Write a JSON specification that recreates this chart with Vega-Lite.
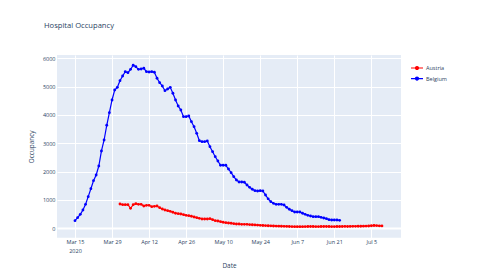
{
  "$schema": "https://vega.github.io/schema/vega-lite/v6.json",
  "width": 344,
  "height": 182.7,
  "autosize": {"type": "none"},
  "padding": {"left": 57, "top": 55, "right": 79, "bottom": 40.3},
  "background": "white",
  "config": {"view": {"fill": "#E5ECF6", "stroke": null}, "font": "Open Sans"},
  "title": {"text": "Hospital Occupancy", "anchor": "start", "frame": "group", "dx": -13, "offset": 19.5, "baseline": "alphabetic", "fontSize": 7.6, "fontWeight": "normal", "color": "#2a3f5f", "font": "Open Sans"},
  "data": {"values": [
    {"country": "Belgium", "date": "2020-03-15", "value": 268},
    {"country": "Belgium", "date": "2020-03-16", "value": 374},
    {"country": "Belgium", "date": "2020-03-17", "value": 494},
    {"country": "Belgium", "date": "2020-03-18", "value": 646},
    {"country": "Belgium", "date": "2020-03-19", "value": 847},
    {"country": "Belgium", "date": "2020-03-20", "value": 1116},
    {"country": "Belgium", "date": "2020-03-21", "value": 1398},
    {"country": "Belgium", "date": "2020-03-22", "value": 1680},
    {"country": "Belgium", "date": "2020-03-23", "value": 1881},
    {"country": "Belgium", "date": "2020-03-24", "value": 2199},
    {"country": "Belgium", "date": "2020-03-25", "value": 2729},
    {"country": "Belgium", "date": "2020-03-26", "value": 3117},
    {"country": "Belgium", "date": "2020-03-27", "value": 3636},
    {"country": "Belgium", "date": "2020-03-28", "value": 4081},
    {"country": "Belgium", "date": "2020-03-29", "value": 4529},
    {"country": "Belgium", "date": "2020-03-30", "value": 4882},
    {"country": "Belgium", "date": "2020-03-31", "value": 4977},
    {"country": "Belgium", "date": "2020-04-01", "value": 5210},
    {"country": "Belgium", "date": "2020-04-02", "value": 5376},
    {"country": "Belgium", "date": "2020-04-03", "value": 5528},
    {"country": "Belgium", "date": "2020-04-04", "value": 5493},
    {"country": "Belgium", "date": "2020-04-05", "value": 5612},
    {"country": "Belgium", "date": "2020-04-06", "value": 5754},
    {"country": "Belgium", "date": "2020-04-07", "value": 5704},
    {"country": "Belgium", "date": "2020-04-08", "value": 5612},
    {"country": "Belgium", "date": "2020-04-09", "value": 5623},
    {"country": "Belgium", "date": "2020-04-10", "value": 5648},
    {"country": "Belgium", "date": "2020-04-11", "value": 5528},
    {"country": "Belgium", "date": "2020-04-12", "value": 5517},
    {"country": "Belgium", "date": "2020-04-13", "value": 5528},
    {"country": "Belgium", "date": "2020-04-14", "value": 5507},
    {"country": "Belgium", "date": "2020-04-15", "value": 5295},
    {"country": "Belgium", "date": "2020-04-16", "value": 5140},
    {"country": "Belgium", "date": "2020-04-17", "value": 5023},
    {"country": "Belgium", "date": "2020-04-18", "value": 4857},
    {"country": "Belgium", "date": "2020-04-19", "value": 4917},
    {"country": "Belgium", "date": "2020-04-20", "value": 4977},
    {"country": "Belgium", "date": "2020-04-21", "value": 4766},
    {"country": "Belgium", "date": "2020-04-22", "value": 4529},
    {"country": "Belgium", "date": "2020-04-23", "value": 4317},
    {"country": "Belgium", "date": "2020-04-24", "value": 4176},
    {"country": "Belgium", "date": "2020-04-25", "value": 3940},
    {"country": "Belgium", "date": "2020-04-26", "value": 3940},
    {"country": "Belgium", "date": "2020-04-27", "value": 3964},
    {"country": "Belgium", "date": "2020-04-28", "value": 3763},
    {"country": "Belgium", "date": "2020-04-29", "value": 3587},
    {"country": "Belgium", "date": "2020-04-30", "value": 3353},
    {"country": "Belgium", "date": "2020-05-01", "value": 3092},
    {"country": "Belgium", "date": "2020-05-02", "value": 3057},
    {"country": "Belgium", "date": "2020-05-03", "value": 3057},
    {"country": "Belgium", "date": "2020-05-04", "value": 3082},
    {"country": "Belgium", "date": "2020-05-05", "value": 2881},
    {"country": "Belgium", "date": "2020-05-06", "value": 2704},
    {"country": "Belgium", "date": "2020-05-07", "value": 2527},
    {"country": "Belgium", "date": "2020-05-08", "value": 2376},
    {"country": "Belgium", "date": "2020-05-09", "value": 2224},
    {"country": "Belgium", "date": "2020-05-10", "value": 2224},
    {"country": "Belgium", "date": "2020-05-11", "value": 2224},
    {"country": "Belgium", "date": "2020-05-12", "value": 2093},
    {"country": "Belgium", "date": "2020-05-13", "value": 1963},
    {"country": "Belgium", "date": "2020-05-14", "value": 1822},
    {"country": "Belgium", "date": "2020-05-15", "value": 1705},
    {"country": "Belgium", "date": "2020-05-16", "value": 1635},
    {"country": "Belgium", "date": "2020-05-17", "value": 1635},
    {"country": "Belgium", "date": "2020-05-18", "value": 1624},
    {"country": "Belgium", "date": "2020-05-19", "value": 1529},
    {"country": "Belgium", "date": "2020-05-20", "value": 1447},
    {"country": "Belgium", "date": "2020-05-21", "value": 1377},
    {"country": "Belgium", "date": "2020-05-22", "value": 1328},
    {"country": "Belgium", "date": "2020-05-23", "value": 1317},
    {"country": "Belgium", "date": "2020-05-24", "value": 1328},
    {"country": "Belgium", "date": "2020-05-25", "value": 1317},
    {"country": "Belgium", "date": "2020-05-26", "value": 1175},
    {"country": "Belgium", "date": "2020-05-27", "value": 1040},
    {"country": "Belgium", "date": "2020-05-28", "value": 939},
    {"country": "Belgium", "date": "2020-05-29", "value": 882},
    {"country": "Belgium", "date": "2020-05-30", "value": 847},
    {"country": "Belgium", "date": "2020-05-31", "value": 847},
    {"country": "Belgium", "date": "2020-06-01", "value": 847},
    {"country": "Belgium", "date": "2020-06-02", "value": 822},
    {"country": "Belgium", "date": "2020-06-03", "value": 741},
    {"country": "Belgium", "date": "2020-06-04", "value": 671},
    {"country": "Belgium", "date": "2020-06-05", "value": 621},
    {"country": "Belgium", "date": "2020-06-06", "value": 575},
    {"country": "Belgium", "date": "2020-06-07", "value": 575},
    {"country": "Belgium", "date": "2020-06-08", "value": 575},
    {"country": "Belgium", "date": "2020-06-09", "value": 530},
    {"country": "Belgium", "date": "2020-06-10", "value": 494},
    {"country": "Belgium", "date": "2020-06-11", "value": 459},
    {"country": "Belgium", "date": "2020-06-12", "value": 434},
    {"country": "Belgium", "date": "2020-06-13", "value": 410},
    {"country": "Belgium", "date": "2020-06-14", "value": 410},
    {"country": "Belgium", "date": "2020-06-15", "value": 410},
    {"country": "Belgium", "date": "2020-06-16", "value": 388},
    {"country": "Belgium", "date": "2020-06-17", "value": 364},
    {"country": "Belgium", "date": "2020-06-18", "value": 339},
    {"country": "Belgium", "date": "2020-06-19", "value": 304},
    {"country": "Belgium", "date": "2020-06-20", "value": 293},
    {"country": "Belgium", "date": "2020-06-21", "value": 293},
    {"country": "Belgium", "date": "2020-06-22", "value": 293},
    {"country": "Belgium", "date": "2020-06-23", "value": 282},
    {"country": "Austria", "date": "2020-04-01", "value": 858},
    {"country": "Austria", "date": "2020-04-02", "value": 834},
    {"country": "Austria", "date": "2020-04-03", "value": 834},
    {"country": "Austria", "date": "2020-04-04", "value": 834},
    {"country": "Austria", "date": "2020-04-05", "value": 706},
    {"country": "Austria", "date": "2020-04-06", "value": 834},
    {"country": "Austria", "date": "2020-04-07", "value": 869},
    {"country": "Austria", "date": "2020-04-08", "value": 847},
    {"country": "Austria", "date": "2020-04-09", "value": 847},
    {"country": "Austria", "date": "2020-04-10", "value": 787},
    {"country": "Austria", "date": "2020-04-11", "value": 811},
    {"country": "Austria", "date": "2020-04-12", "value": 811},
    {"country": "Austria", "date": "2020-04-13", "value": 763},
    {"country": "Austria", "date": "2020-04-14", "value": 776},
    {"country": "Austria", "date": "2020-04-15", "value": 787},
    {"country": "Austria", "date": "2020-04-16", "value": 728},
    {"country": "Austria", "date": "2020-04-17", "value": 681},
    {"country": "Austria", "date": "2020-04-18", "value": 646},
    {"country": "Austria", "date": "2020-04-19", "value": 621},
    {"country": "Austria", "date": "2020-04-20", "value": 600},
    {"country": "Austria", "date": "2020-04-21", "value": 565},
    {"country": "Austria", "date": "2020-04-22", "value": 530},
    {"country": "Austria", "date": "2020-04-23", "value": 516},
    {"country": "Austria", "date": "2020-04-24", "value": 505},
    {"country": "Austria", "date": "2020-04-25", "value": 480},
    {"country": "Austria", "date": "2020-04-26", "value": 459},
    {"country": "Austria", "date": "2020-04-27", "value": 445},
    {"country": "Austria", "date": "2020-04-28", "value": 424},
    {"country": "Austria", "date": "2020-04-29", "value": 399},
    {"country": "Austria", "date": "2020-04-30", "value": 374},
    {"country": "Austria", "date": "2020-05-01", "value": 353},
    {"country": "Austria", "date": "2020-05-02", "value": 328},
    {"country": "Austria", "date": "2020-05-03", "value": 328},
    {"country": "Austria", "date": "2020-05-04", "value": 328},
    {"country": "Austria", "date": "2020-05-05", "value": 339},
    {"country": "Austria", "date": "2020-05-06", "value": 304},
    {"country": "Austria", "date": "2020-05-07", "value": 268},
    {"country": "Austria", "date": "2020-05-08", "value": 258},
    {"country": "Austria", "date": "2020-05-09", "value": 233},
    {"country": "Austria", "date": "2020-05-10", "value": 212},
    {"country": "Austria", "date": "2020-05-11", "value": 198},
    {"country": "Austria", "date": "2020-05-12", "value": 187},
    {"country": "Austria", "date": "2020-05-13", "value": 177},
    {"country": "Austria", "date": "2020-05-14", "value": 162},
    {"country": "Austria", "date": "2020-05-15", "value": 152},
    {"country": "Austria", "date": "2020-05-16", "value": 152},
    {"country": "Austria", "date": "2020-05-17", "value": 141},
    {"country": "Austria", "date": "2020-05-18", "value": 141},
    {"country": "Austria", "date": "2020-05-19", "value": 141},
    {"country": "Austria", "date": "2020-05-20", "value": 130},
    {"country": "Austria", "date": "2020-05-21", "value": 125},
    {"country": "Austria", "date": "2020-05-22", "value": 118},
    {"country": "Austria", "date": "2020-05-23", "value": 112},
    {"country": "Austria", "date": "2020-05-24", "value": 105},
    {"country": "Austria", "date": "2020-05-25", "value": 100},
    {"country": "Austria", "date": "2020-05-26", "value": 95},
    {"country": "Austria", "date": "2020-05-27", "value": 90},
    {"country": "Austria", "date": "2020-05-28", "value": 86},
    {"country": "Austria", "date": "2020-05-29", "value": 82},
    {"country": "Austria", "date": "2020-05-30", "value": 78},
    {"country": "Austria", "date": "2020-05-31", "value": 75},
    {"country": "Austria", "date": "2020-06-01", "value": 72},
    {"country": "Austria", "date": "2020-06-02", "value": 70},
    {"country": "Austria", "date": "2020-06-03", "value": 66},
    {"country": "Austria", "date": "2020-06-04", "value": 63},
    {"country": "Austria", "date": "2020-06-05", "value": 60},
    {"country": "Austria", "date": "2020-06-06", "value": 58},
    {"country": "Austria", "date": "2020-06-07", "value": 57},
    {"country": "Austria", "date": "2020-06-08", "value": 56},
    {"country": "Austria", "date": "2020-06-09", "value": 58},
    {"country": "Austria", "date": "2020-06-10", "value": 60},
    {"country": "Austria", "date": "2020-06-11", "value": 62},
    {"country": "Austria", "date": "2020-06-12", "value": 63},
    {"country": "Austria", "date": "2020-06-13", "value": 62},
    {"country": "Austria", "date": "2020-06-14", "value": 60},
    {"country": "Austria", "date": "2020-06-15", "value": 60},
    {"country": "Austria", "date": "2020-06-16", "value": 62},
    {"country": "Austria", "date": "2020-06-17", "value": 63},
    {"country": "Austria", "date": "2020-06-18", "value": 64},
    {"country": "Austria", "date": "2020-06-19", "value": 62},
    {"country": "Austria", "date": "2020-06-20", "value": 60},
    {"country": "Austria", "date": "2020-06-21", "value": 61},
    {"country": "Austria", "date": "2020-06-22", "value": 62},
    {"country": "Austria", "date": "2020-06-23", "value": 62},
    {"country": "Austria", "date": "2020-06-24", "value": 63},
    {"country": "Austria", "date": "2020-06-25", "value": 65},
    {"country": "Austria", "date": "2020-06-26", "value": 64},
    {"country": "Austria", "date": "2020-06-27", "value": 66},
    {"country": "Austria", "date": "2020-06-28", "value": 68},
    {"country": "Austria", "date": "2020-06-29", "value": 70},
    {"country": "Austria", "date": "2020-06-30", "value": 72},
    {"country": "Austria", "date": "2020-07-01", "value": 72},
    {"country": "Austria", "date": "2020-07-02", "value": 74},
    {"country": "Austria", "date": "2020-07-03", "value": 78},
    {"country": "Austria", "date": "2020-07-04", "value": 82},
    {"country": "Austria", "date": "2020-07-05", "value": 90},
    {"country": "Austria", "date": "2020-07-06", "value": 100},
    {"country": "Austria", "date": "2020-07-07", "value": 96},
    {"country": "Austria", "date": "2020-07-08", "value": 88},
    {"country": "Austria", "date": "2020-07-09", "value": 85}
  ]},
  "mark": {"type": "line", "strokeWidth": 1.2, "point": {"filled": true, "size": 8}},
  "encoding": {
    "x": {
      "field": "date", "type": "temporal",
      "scale": {"type": "utc", "domain": [
        {"year": 2020, "month": 3, "date": 8, "hours": 4, "minutes": 48, "utc": true},
        {"year": 2020, "month": 7, "date": 16, "hours": 4, "minutes": 48, "utc": true}
      ]},
      "axis": {
        "title": "Date",
        "values": [
          {"year": 2020, "month": 3, "date": 15, "utc": true},
          {"year": 2020, "month": 3, "date": 29, "utc": true},
          {"year": 2020, "month": 4, "date": 12, "utc": true},
          {"year": 2020, "month": 4, "date": 26, "utc": true},
          {"year": 2020, "month": 5, "date": 10, "utc": true},
          {"year": 2020, "month": 5, "date": 24, "utc": true},
          {"year": 2020, "month": 6, "date": 7, "utc": true},
          {"year": 2020, "month": 6, "date": 21, "utc": true},
          {"year": 2020, "month": 7, "date": 5, "utc": true}
        ],
        "labelExpr": "utcFormat(datum.value, '%m%d') == '0315' ? [utcFormat(datum.value, '%b %-d'), '2020'] : utcFormat(datum.value, '%b %-d')",
        "grid": true, "gridColor": "white", "gridWidth": 1,
        "domain": false, "ticks": false,
        "labelFontSize": 5.5, "labelColor": "#2a3f5f", "labelPadding": 2, "labelLineHeight": 8.7, "labelFont": "Open Sans",
        "titleFontSize": 6.4, "titleFontWeight": "normal", "titleColor": "#2a3f5f", "titleFont": "Open Sans",
        "titleY": 27.3, "titleBaseline": "middle"
      }
    },
    "y": {
      "field": "value", "type": "quantitative",
      "scale": {"domain": [-332, 6117], "nice": false, "zero": false},
      "axis": {
        "title": "Occupancy",
        "values": [0, 1000, 2000, 3000, 4000, 5000, 6000],
        "format": "d",
        "grid": true, "gridColor": "white",
        "gridWidth": {"condition": {"test": "datum.value === 0", "value": 1.8}, "value": 1},
        "domain": false, "ticks": false,
        "labelFontSize": 5.5, "labelColor": "#2a3f5f", "labelPadding": 2, "labelFont": "Open Sans",
        "titleFontSize": 6.4, "titleFontWeight": "normal", "titleColor": "#2a3f5f", "titleFont": "Open Sans",
        "titleX": -25.3, "titleY": 91.35, "titleBaseline": "middle", "titleAlign": "center", "titleAngle": -90
      }
    },
    "color": {
      "field": "country", "type": "nominal",
      "scale": {"domain": ["Austria", "Belgium"], "range": ["#ff0000", "#0000ff"]},
      "legend": {
        "title": null, "orient": "none", "legendX": 354, "legendY": 7, "padding": 0,
        "labelFontSize": 5.5, "labelColor": "#2a3f5f", "labelFont": "Open Sans", "labelOffset": 3,
        "symbolType": "M-1.2,0H1.2M-0.3,0A0.3,0.3,0,1,1,0.3,0A0.3,0.3,0,1,1,-0.3,0Z",
        "symbolSize": 100, "symbolStrokeWidth": 1.2, "rowPadding": 0.6,
        "encode": {"symbols": {"update": {"fill": {"scale": "color", "field": "value"}, "stroke": {"scale": "color", "field": "value"}}}}
      }
    }
  }
}
